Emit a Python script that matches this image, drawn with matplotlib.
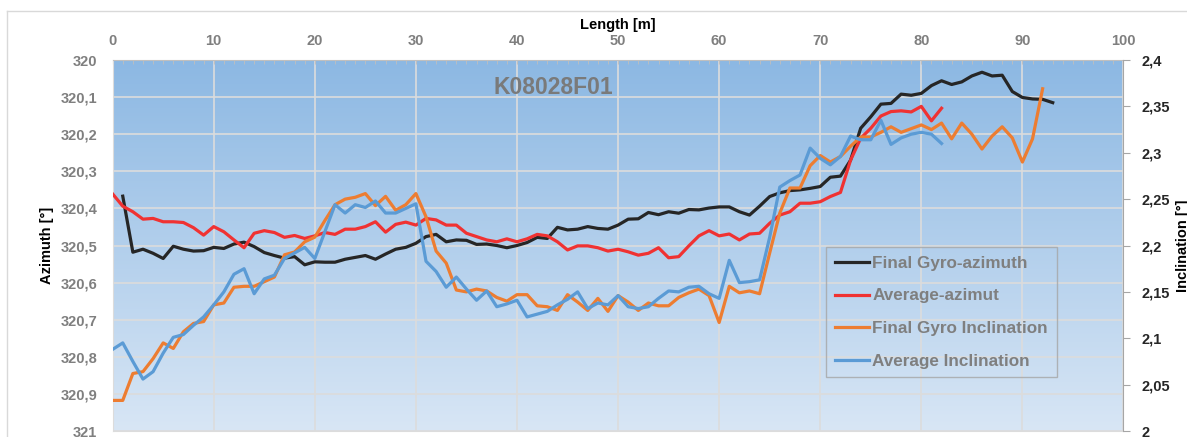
import numpy as np
import matplotlib
matplotlib.use('Agg')
import matplotlib.pyplot as plt
from matplotlib.ticker import MultipleLocator, FuncFormatter
from matplotlib.lines import Line2D

plt.rcParams['font.family'] = ['Liberation Sans', 'DejaVu Sans']

# Daten: Laenge [m], Azimut [°], Inklination [°]
laenge_gyro_az = list(range(1, 94))
gyro_azimut = [320.367, 320.518, 320.510, 320.521, 320.535, 320.502, 320.510, 320.515, 320.514, 320.505,
               320.508, 320.496, 320.491, 320.503, 320.519, 320.527, 320.534, 320.530, 320.552, 320.544,
               320.545, 320.545, 320.537, 320.532, 320.527, 320.537, 320.523, 320.510, 320.505, 320.494,
               320.476, 320.470, 320.490, 320.485, 320.486, 320.497, 320.496, 320.500, 320.506, 320.500,
               320.492, 320.478, 320.481, 320.451, 320.458, 320.456, 320.449, 320.454, 320.456, 320.445,
               320.429, 320.428, 320.411, 320.417, 320.409, 320.413, 320.403, 320.404, 320.399, 320.396,
               320.396, 320.409, 320.418, 320.394, 320.368, 320.358, 320.352, 320.350, 320.346, 320.341,
               320.316, 320.313, 320.270, 320.184, 320.153, 320.119, 320.117, 320.092, 320.095, 320.090,
               320.069, 320.056, 320.066, 320.059, 320.043, 320.033, 320.043, 320.041, 320.085, 320.101,
               320.105, 320.106, 320.115]

laenge_avg_az = list(range(0, 83))
avg_azimut = [320.361, 320.394, 320.409, 320.429, 320.427, 320.436, 320.436, 320.438, 320.452, 320.472,
              320.449, 320.463, 320.485, 320.506, 320.467, 320.460, 320.465, 320.478, 320.473, 320.481,
              320.474, 320.465, 320.470, 320.456, 320.456, 320.449, 320.436, 320.464, 320.443, 320.437,
              320.445, 320.427, 320.431, 320.445, 320.445, 320.467, 320.476, 320.485, 320.490, 320.482,
              320.490, 320.482, 320.470, 320.474, 320.490, 320.512, 320.501, 320.501, 320.506, 320.515,
              320.510, 320.517, 320.526, 320.521, 320.506, 320.533, 320.530, 320.501, 320.474, 320.460,
              320.474, 320.469, 320.485, 320.469, 320.467, 320.440, 320.418, 320.409, 320.386, 320.386,
              320.382, 320.368, 320.357, 320.270, 320.211, 320.184, 320.151, 320.139, 320.137, 320.140,
              320.125, 320.164, 320.130]

laenge_gyro_inc = list(range(0, 93))
gyro_inklination = [2.033, 2.033, 2.062, 2.064, 2.078, 2.095, 2.089, 2.107, 2.116, 2.118,
                    2.136, 2.138, 2.155, 2.156, 2.156, 2.161, 2.166, 2.190, 2.193, 2.204,
                    2.209, 2.227, 2.244, 2.250, 2.252, 2.256, 2.243, 2.253, 2.238, 2.244,
                    2.256, 2.231, 2.194, 2.181, 2.152, 2.150, 2.153, 2.151, 2.144, 2.140,
                    2.147, 2.147, 2.135, 2.134, 2.130, 2.147, 2.139, 2.130, 2.143, 2.129,
                    2.146, 2.139, 2.130, 2.138, 2.135, 2.135, 2.144, 2.149, 2.153, 2.146,
                    2.117, 2.156, 2.149, 2.151, 2.148, 2.192, 2.235, 2.262, 2.262, 2.286,
                    2.297, 2.290, 2.296, 2.307, 2.317, 2.317, 2.322, 2.328, 2.322, 2.326,
                    2.330, 2.325, 2.332, 2.315, 2.332, 2.320, 2.304, 2.318, 2.328, 2.316,
                    2.290, 2.315, 2.369]

laenge_avg_inc = list(range(0, 83))
avg_inklination = [2.088, 2.095, 2.075, 2.056, 2.064, 2.084, 2.101, 2.104, 2.114, 2.123,
                   2.136, 2.150, 2.169, 2.175, 2.148, 2.164, 2.168, 2.186, 2.192, 2.198,
                   2.186, 2.215, 2.244, 2.235, 2.244, 2.241, 2.248, 2.235, 2.235, 2.240,
                   2.245, 2.183, 2.172, 2.155, 2.166, 2.153, 2.141, 2.151, 2.134, 2.137,
                   2.141, 2.123, 2.126, 2.129, 2.136, 2.142, 2.150, 2.132, 2.138, 2.136,
                   2.146, 2.134, 2.132, 2.134, 2.143, 2.151, 2.150, 2.155, 2.156, 2.148,
                   2.143, 2.184, 2.160, 2.161, 2.163, 2.209, 2.263, 2.270, 2.276, 2.305,
                   2.294, 2.287, 2.296, 2.318, 2.314, 2.314, 2.335, 2.309, 2.316, 2.320,
                   2.322, 2.320, 2.310]

#%%

fig = plt.figure(figsize=(11.87, 4.37), dpi=100)
ax = fig.add_axes([0.0949, 0.0137, 0.8516, 0.849])

# Hintergrund mit Farbverlauf
verlauf = np.linspace(0, 1, 256).reshape(-1, 1)
cmap = matplotlib.colors.LinearSegmentedColormap.from_list('bg', ['#8cb8e3', '#d8e6f5'])
ax.imshow(verlauf, extent=[0, 1, 0, 1], transform=ax.transAxes, cmap=cmap,
          aspect='auto', zorder=0, origin='upper')

ax.set_xlim(0, 100)
ax.set_ylim(321, 320)
ax.xaxis.set_major_locator(MultipleLocator(10))
ax.xaxis.set_minor_locator(MultipleLocator(1))
ax.yaxis.set_major_locator(MultipleLocator(0.1))
ax.grid(True, which='major', color='#dcdcdc', lw=1.2, zorder=1)
ax.set_axisbelow(True)

komma = lambda v, p: ('%g' % round(v, 3)).replace('.', ',')
ax.yaxis.set_major_formatter(FuncFormatter(komma))

ax.xaxis.tick_top()
ax.xaxis.set_label_position('top')
ax.tick_params(axis='x', which='both', direction='in', colors='#bfbfbf', labelcolor='#7f7f7f',
               labelsize=10.5, pad=9)
ax.tick_params(axis='x', which='major', length=3)
ax.tick_params(axis='x', which='minor', length=3)
ax.tick_params(axis='y', length=0, labelcolor='#7f7f7f', labelsize=10.5, pad=11)
for lbl in ax.get_xticklabels() + ax.get_yticklabels():
    lbl.set_fontweight('bold')

for s in ['left', 'bottom']:
    ax.spines[s].set_color('#dcdcdc')
ax.spines['top'].set_color('#bfbfbf')
ax.spines['right'].set_visible(False)

ax.set_xlabel('Length [m]', fontsize=10.5, fontweight='bold', color='black', labelpad=3)
ax.set_ylabel('Azimuth [°]', fontsize=10.5, fontweight='bold', color='black', labelpad=5)

l1, = ax.plot(laenge_gyro_az, gyro_azimut, color='#262626', lw=2.3, zorder=3)
l2, = ax.plot(laenge_avg_az, avg_azimut, color='#f03232', lw=2.3, zorder=3)

ax2 = ax.twinx()
ax2.set_ylim(2.0, 2.4)
ax2.yaxis.set_major_locator(MultipleLocator(0.05))
ax2.yaxis.set_major_formatter(FuncFormatter(komma))
ax2.tick_params(axis='y', direction='out', length=5, colors='#a6a6a6', labelcolor='#262626',
                labelsize=10.5, pad=8)
for lbl in ax2.get_yticklabels():
    lbl.set_fontweight('bold')
for s in ['left', 'top', 'bottom']:
    ax2.spines[s].set_visible(False)
ax2.spines['right'].set_color('#a6a6a6')
ax2.set_ylabel('Inclination [°]', fontsize=10.5, fontweight='bold', color='black', labelpad=4)

l3, = ax2.plot(laenge_gyro_inc, gyro_inklination, color='#ed7d31', lw=2.3, zorder=3)
l4, = ax2.plot(laenge_avg_inc, avg_inklination, color='#5b9bd5', lw=2.3, zorder=3)

ax2.text(43.6, 0.925, 'K08028F01', transform=ax2.get_xaxis_transform(), ha='center', va='center',
         fontsize=16.5, fontweight='bold', color='#7a7a7a')

leg = ax2.legend([l1, l2, l3, l4],
                 ['Final Gyro-azimuth', 'Average-azimut', 'Final Gyro Inclination', 'Average Inclination'],
                 loc='lower left', bbox_to_anchor=(0.706, 0.145), fancybox=False,
                 edgecolor='#a6a6a6', fontsize=12.3, handlelength=2.0, handletextpad=0.2,
                 labelspacing=1.03, borderpad=0.5, borderaxespad=0)
leg.get_frame().set_facecolor('none')
leg.get_frame().set_linewidth(1.0)
for t in leg.get_texts():
    t.set_color('#7f7f7f')
    t.set_fontweight('bold')

# Rahmen des Diagrammbereichs
fig.add_artist(Line2D([7 / 1187, 7 / 1187], [0, 1 - 11 / 437], color='#d9d9d9', lw=1))
fig.add_artist(Line2D([7 / 1187, 1], [1 - 11 / 437, 1 - 11 / 437], color='#d9d9d9', lw=1))

plt.savefig('out.png', dpi=100)
